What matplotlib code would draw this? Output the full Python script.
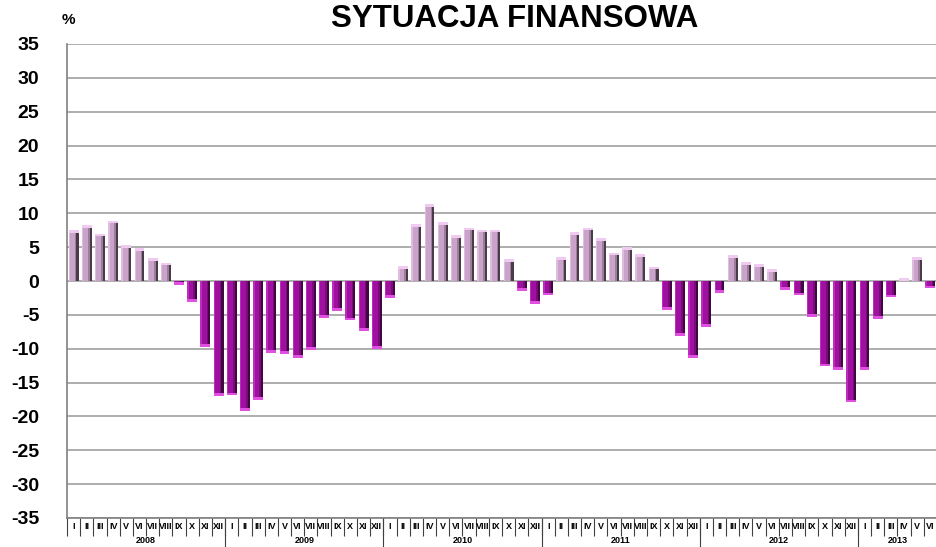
import numpy as np
import matplotlib.pyplot as plt
import matplotlib.transforms as mtransforms

plt.rcParams['font.family'] = ['Liberation Sans', 'DejaVu Sans']
plt.rcParams['axes.unicode_minus'] = False

years = ['2008', '2009', '2010', '2011', '2012', '2013']
months = ['I', 'II', 'III', 'IV', 'V', 'VI', 'VII', 'VIII', 'IX', 'X', 'XI', 'XII']

# monthly balance, 2008 I .. 2013 VI
v2008 = [7.5, 8.3, 7.0, 8.9, 5.3, 4.9, 3.4, 2.7, -0.6, -3.1, -9.7, -17.0]
v2009 = [-16.9, -19.2, -17.5, -10.6, -10.8, -11.3, -10.2, -5.4, -4.4, -5.8, -7.4, -10.0]
v2010 = [-2.5, 2.2, 8.4, 11.3, 8.7, 6.8, 7.9, 7.6, 7.6, 3.2, -1.5, -3.4]
v2011 = [-2.1, 3.5, 7.2, 7.9, 6.3, 4.2, 5.0, 4.0, 2.1, -4.3, -8.1, -11.3]
v2012 = [-6.8, -1.7, 3.8, 2.8, 2.5, 1.8, -1.3, -2.1, -5.3, -12.6, -13.1, -17.9]
v2013 = [-13.1, -5.6, -2.4, 0.4, 3.5, -1.1]

values = np.array(v2008 + v2009 + v2010 + v2011 + v2012 + v2013)
labels = months * 5 + months[:len(v2013)]
x = np.arange(len(values))

fig = plt.figure(figsize=(9.37, 5.47), dpi=100)
ax = fig.add_axes([67 / 937, 29 / 547, 1 - 67 / 937, (518 - 44) / 547])

pos = values >= 0
neg = ~pos
w = 0.75

def draw_bars(mask, base, light, mid, dark, cap):
    xs = x[mask]
    vs = values[mask]
    ax.bar(xs, vs, width=w, color=base, zorder=3)
    ax.bar(xs - w / 2, vs, width=0.1, align='edge', color=light, zorder=4)
    ax.bar(xs + w / 2 - 0.28, vs, width=0.12, align='edge', color=mid, zorder=4)
    ax.bar(xs + w / 2 - 0.16, vs, width=0.16, align='edge', color=dark, zorder=4)
    sign = np.sign(vs)
    capsz = np.minimum(np.abs(vs), 0.4) * sign
    ax.bar(xs, capsz, bottom=vs - capsz, width=w, color=cap, zorder=5)

draw_bars(pos, '#c9a3c9', '#dfbddf', '#9a7e9a', '#4a3a4a', '#f0caf0')
draw_bars(neg, '#a010a0', '#bd2cbd', '#7a0c7a', '#420642', '#e050e0')

ax.set_ylim(-35, 35)
ax.set_yticks(np.arange(-35, 36, 5))
ax.set_xlim(-0.5, 64.99)
ax.yaxis.grid(True, color='#a0a0a0', linewidth=1.2, zorder=0)
ax.set_axisbelow(True)
ax.tick_params(axis='y', length=0, labelsize=14, pad=20)
for t in ax.get_yticklabels():
    t.set_fontweight('bold')

for s in ['top', 'right']:
    ax.spines[s].set_visible(False)
ax.spines['left'].set_color('#808080')
ax.spines['bottom'].set_color('#808080')
ax.spines['left'].set_linewidth(1.2)
ax.spines['bottom'].set_linewidth(1.2)

# month labels at bar centres, separators between months
ax.set_xticks(x, labels, minor=True)
ax.set_xticks(np.arange(-0.5, len(values), 1))
ax.set_xticklabels([])
ax.tick_params(axis='x', which='major', length=13, width=0.8, color='#404040', direction='out')
ax.tick_params(axis='x', which='minor', length=0, labelsize=6.5, pad=3)
for t in ax.get_xticklabels(minor=True):
    t.set_fontweight('bold')

# year labels and year separators
trans = mtransforms.blended_transform_factory(ax.transData, ax.transAxes)
for i, yr in enumerate(years):
    start = i * 12 - 0.5
    n = min(12, len(values) - i * 12)
    ax.text(start + n / 2, -0.047, yr, transform=trans, ha='center', va='center',
            fontsize=6.5, fontweight='bold')
    if i > 0:
        ax.plot([start, start], [0, -0.07], transform=trans, color='#404040',
                linewidth=0.8, clip_on=False)

fig.text(515 / 937, 1 - 19 / 547, 'SYTUACJA FINANSOWA', ha='center', va='center',
         fontsize=22.5, fontweight='bold')
fig.text(68 / 937, 1 - 20 / 547, '%', ha='center', va='center',
         fontsize=11, fontweight='bold')

fig.savefig('out.png', dpi=100)
